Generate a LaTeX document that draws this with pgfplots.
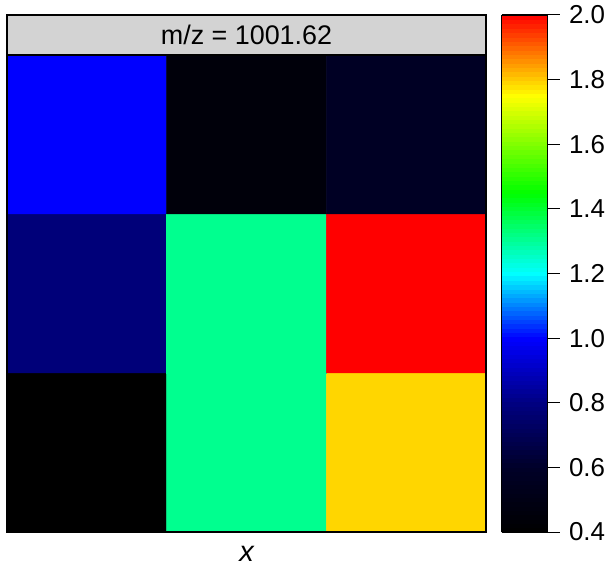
\documentclass[border=0pt]{standalone}
\usepackage{pgfplots}
\pgfplotsset{compat=1.18}
\usepackage{fontspec}
\setmainfont{Liberation Sans}
\definecolor{stripgray}{RGB}{211,211,211}
\begin{document}
\begin{tikzpicture}
\path[use as bounding box] (-7bp,-36bp) rectangle (604bp,532bp);
\begin{axis}[
 at={(0,0)}, anchor=south west,
 scale only axis, width=479bp, height=477bp,
 enlargelimits=false,
 xtick=\empty, ytick=\empty,
 axis on top,
 axis line style={line width=1.2bp},
 colormap={rcol}{rgb255(0)=(0,0,0); rgb255(2)=(0,0,40); rgb255(4)=(0,0,130); rgb255(6)=(0,0,255); rgb255(8)=(0,255,255); rgb255(10.5)=(0,255,0); rgb255(13.5)=(255,255,0); rgb255(16)=(255,0,0)},
 point meta min=0.4, point meta max=2.0,
 colorbar sampled,
 colorbar style={
   samples=120,
   at={(parent axis.south east)}, anchor=south west, xshift=7bp,
   scale only axis, width=46bp, height=517bp,
   ytick={0.4,0.6,...,2.0},
   ytick pos=right, yticklabel pos=right,
   tick align=outside, major tick length=12bp,
   tick style={line width=1bp, black},
   axis on top,
   axis line style={line width=1.2bp},
   yticklabel style={xshift=6bp, font=\fontsize{26}{26}\selectfont, /pgf/number format/.cd, fixed, fixed zerofill, precision=1, assume math mode=true},
 },
 xlabel={\fontsize{29}{29}\selectfont\itshape x},
 xlabel style={at={(axis description cs:0.5,0)}, anchor=center, yshift=-22bp, inner sep=0pt},
]
\addplot[matrix plot*, mesh/cols=3, point meta=explicit] table[meta=c]{
x y c
0 0 0.40
1 0 1.31
2 0 1.79
0 1 0.78
1 1 1.31
2 1 2.00
0 2 1.00
1 2 0.45
2 2 0.58
};
\end{axis}
\draw[fill=stripgray, line width=1.2bp] (0,477bp) rectangle (479bp,517bp);
\node[font=\fontsize{27}{27}\selectfont] at (239.5bp,497bp) {m/z = 1001.62};
\end{tikzpicture}
\end{document}
